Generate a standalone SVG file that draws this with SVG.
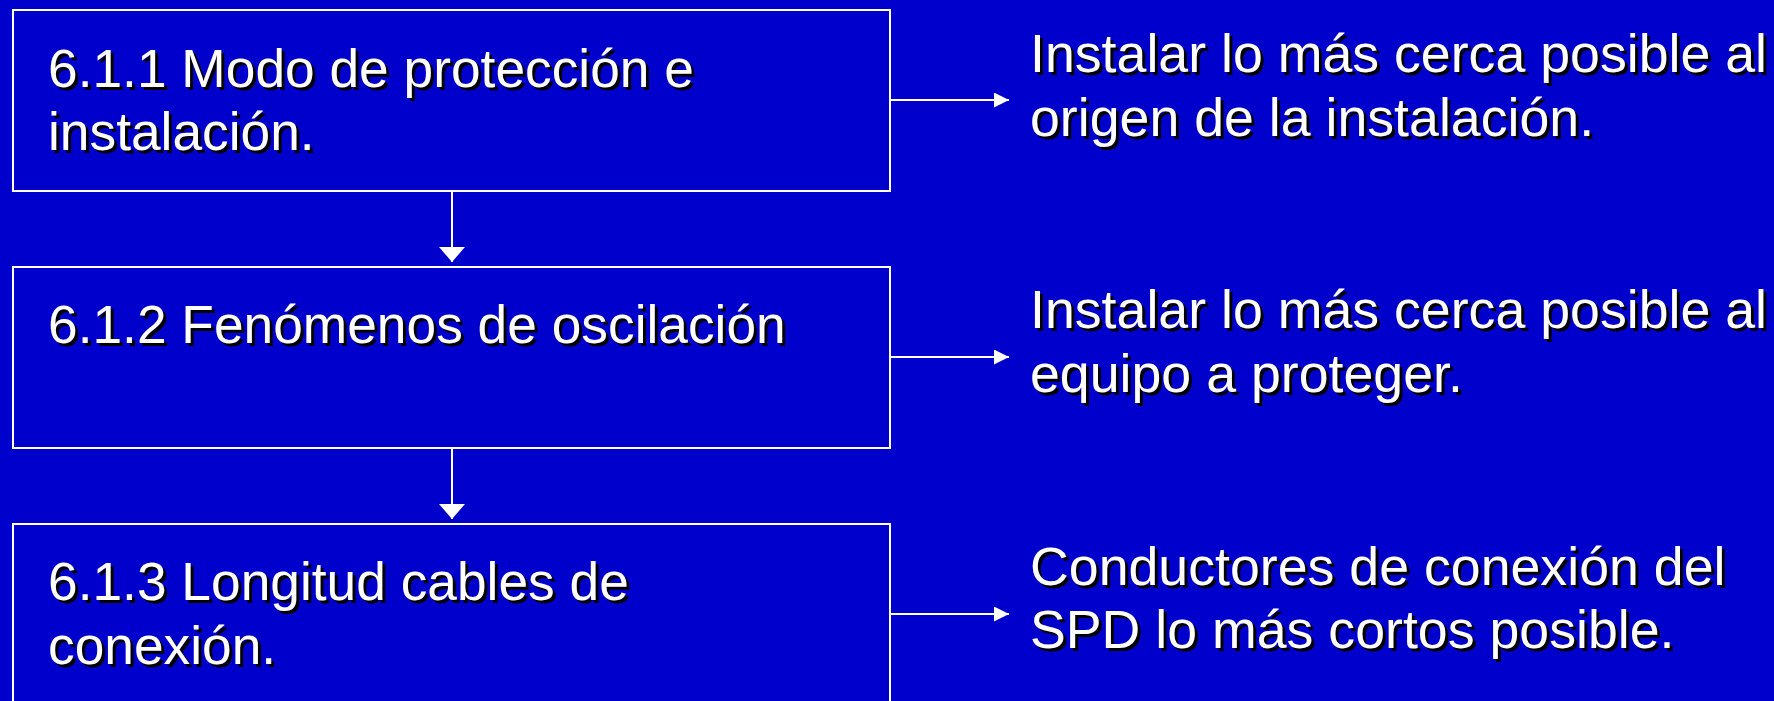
<svg xmlns="http://www.w3.org/2000/svg" width="1774" height="701" viewBox="0 0 1774 701">
<defs>
<style>
.box{fill:none;stroke:#ffffff;stroke-width:2}
.conn{fill:none;stroke:#ffffff;stroke-width:2}
.t{font-family:"Liberation Sans",Arial,sans-serif;font-size:53.3px;fill:#ffffff}
.sh{font-family:"Liberation Sans",Arial,sans-serif;font-size:53.3px;fill:#000000}
.note .t,.note .sh{font-size:53.7px}
</style>
<marker id="ah" markerUnits="userSpaceOnUse" viewBox="0 0 15 15" refX="15" refY="7.5" markerWidth="15" markerHeight="15" orient="auto"><path d="M0,0 L15,7.5 L0,15 Z" fill="#ffffff"/></marker>
<marker id="av" markerUnits="userSpaceOnUse" viewBox="0 0 15 26" refX="15" refY="13" markerWidth="15" markerHeight="26" orient="auto"><path d="M0,0 L15,13 L0,26 Z" fill="#ffffff"/></marker>
</defs>
<rect x="0" y="0" width="1774" height="701" fill="#0000CC"/>
<g id="connectors">
<line class="conn" x1="452" y1="191" x2="452" y2="262" marker-end="url(#av)"/>
<line class="conn" x1="452" y1="448" x2="452" y2="519" marker-end="url(#av)"/>
<line class="conn" x1="890" y1="100" x2="1009" y2="100" marker-end="url(#ah)"/>
<line class="conn" x1="890" y1="357" x2="1009" y2="357" marker-end="url(#ah)"/>
<line class="conn" x1="890" y1="614" x2="1009" y2="614" marker-end="url(#ah)"/>
</g>
<g id="node1">
<rect class="box" x="13" y="10" width="877" height="181"/>
<text class="sh" x="51" y="90">6.1.1 Modo de protección e</text>
<text class="sh" x="51" y="153">instalación.</text>
<text class="t" x="48" y="87">6.1.1 Modo de protección e</text>
<text class="t" x="48" y="150">instalación.</text>
</g>
<g id="node2">
<rect class="box" x="13" y="267" width="877" height="181"/>
<text class="sh" x="51" y="346">6.1.2 Fenómenos de oscilación</text>
<text class="t" x="48" y="343">6.1.2 Fenómenos de oscilación</text>
</g>
<g id="node3">
<rect class="box" x="13" y="524" width="877" height="200"/>
<text class="sh" x="51" y="603">6.1.3 Longitud cables de</text>
<text class="sh" x="51" y="667">conexión.</text>
<text class="t" x="48" y="600">6.1.3 Longitud cables de</text>
<text class="t" x="48" y="664">conexión.</text>
</g>
<g id="note1" class="note">
<text class="sh" x="1033" y="75">Instalar lo más cerca posible al</text>
<text class="sh" x="1033" y="139">origen de la instalación.</text>
<text class="t" x="1030" y="72">Instalar lo más cerca posible al</text>
<text class="t" x="1030" y="136">origen de la instalación.</text>
</g>
<g id="note2" class="note">
<text class="sh" x="1033" y="331">Instalar lo más cerca posible al</text>
<text class="sh" x="1033" y="395">equipo a proteger.</text>
<text class="t" x="1030" y="328">Instalar lo más cerca posible al</text>
<text class="t" x="1030" y="392">equipo a proteger.</text>
</g>
<g id="note3" class="note">
<text class="sh" x="1033" y="588">Conductores de conexión del</text>
<text class="sh" x="1033" y="651">SPD lo más cortos posible.</text>
<text class="t" x="1030" y="585">Conductores de conexión del</text>
<text class="t" x="1030" y="648">SPD lo más cortos posible.</text>
</g>
</svg>
